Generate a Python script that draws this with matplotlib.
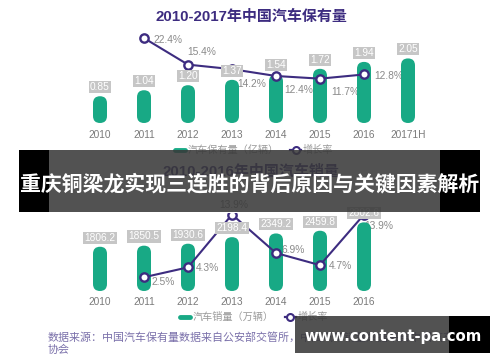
import matplotlib
matplotlib.use('Agg')
import matplotlib.pyplot as plt
from matplotlib.patches import FancyBboxPatch, Rectangle
from matplotlib.lines import Line2D

plt.rcParams['font.family'] = ['Liberation Sans', 'Noto Sans CJK SC', 'DejaVu Sans']

# 汽车保有量 (亿辆)
own_years = ['2010', '2011', '2012', '2013', '2014', '2015', '2016', '20171H']
own_vals = [0.85, 1.04, 1.20, 1.37, 1.54, 1.72, 1.94, 2.05]
own_growth = [None, 22.4, 15.4, 14.2, 12.4, 11.7, 12.8, None]

# 汽车销量 (万辆)
sale_years = ['2010', '2011', '2012', '2013', '2014', '2015', '2016']
sale_vals = [1806.2, 1850.5, 1930.6, 2198.4, 2349.2, 2459.8, 2802.6]
sale_growth = [None, 2.5, 4.3, 13.9, 6.9, 4.7, 13.9]

W, H = 500, 362
GREEN = '#18a985'
PURPLE = '#3d2c80'
BOX = '#c6c6c6'
GREY = '#8a8a8a'

fig = plt.figure(figsize=(W / 100, H / 100), dpi=100)
fig.patch.set_facecolor('white')


def fx(p):
    return p / W


def fy(p):
    return 1 - p / H


def draw_chart(base_px, height_px, cats, vals, growth, vmax, gmax, fmt,
               g_off, tickpad, leg_label, leg_y):
    rect = [fx(78), fy(base_px), 352 / W, height_px / H]
    ax = fig.add_axes(rect)
    ax.set_xlim(-0.5, 7.5)
    ax.set_ylim(0, vmax)
    axg = ax.twinx()
    axg.set_ylim(0, gmax)
    for a in (ax, axg):
        for s in a.spines.values():
            s.set_visible(False)
        a.set_yticks([])

    # rounded bars
    xs = 8 / (352)            # x units per pixel
    ys = vmax / height_px     # y units per pixel
    bw = 14 * xs
    for i, v in enumerate(vals):
        ax.add_patch(FancyBboxPatch((i - bw / 2, 0), bw, v,
                                    boxstyle='round,pad=0,rounding_size=%f' % (bw / 2),
                                    mutation_aspect=ys / xs,
                                    fc=GREEN, ec='none', zorder=2))

    # growth line
    gx = [i for i, g in enumerate(growth) if g is not None]
    gy = [g for g in growth if g is not None]
    axg.plot(gx, gy, color=PURPLE, lw=1.5, marker='o', ms=6, mfc='white',
             mec=PURPLE, mew=1.7, zorder=3)
    for (i, g), (dx, dy, ha) in zip(zip(gx, gy), g_off):
        ax.annotate('%.1f%%' % g, xy=(i, g), xycoords=axg.transData,
                    xytext=(dx * 0.72, -dy * 0.72), textcoords='offset points',
                    ha=ha, va='center', fontsize=7.4, color=GREY, zorder=1)

    # value boxes
    for i, v in enumerate(vals):
        axg.annotate(fmt % v, xy=(i, v), xycoords=ax.transData,
                     xytext=(0, 6.6), textcoords='offset points',
                     ha='center', va='center', fontsize=7.3, color='white',
                     bbox=dict(boxstyle='square,pad=0.1', fc=BOX, ec='none'),
                     zorder=5)

    ax.set_xticks(range(len(cats)), cats)
    ax.tick_params(axis='x', length=0, pad=tickpad, labelsize=7.3,
                   labelcolor='#7a7a7a')

    h1 = Line2D([], [], color=GREEN, lw=3.5, solid_capstyle='round')
    h2 = Line2D([], [], color=PURPLE, lw=1.6, marker='o', ms=5, mfc='white',
                mec=PURPLE, mew=1.5)
    leg = ax.legend([h1, h2], [leg_label, '增长率'], loc='center',
                    bbox_to_anchor=(fx(254), fy(leg_y)),
                    bbox_transform=fig.transFigure, ncol=2, frameon=False,
                    fontsize=7.3, handlelength=1.0, handletextpad=0.2,
                    columnspacing=1.2, borderaxespad=0, borderpad=0)
    for t in leg.get_texts():
        t.set_color('#9a9a9a')
    return ax, axg


# label offsets in pixels (dx, dy downwards, alignment)
own_off = [(9, 1.5, 'left'), (14, -13, 'center'), (5, 15, 'left'),
           (8, 14, 'left'), (11, 13, 'left'), (10, 2, 'left')]
sale_off = [(8, 5, 'left'), (8, 1, 'left'), (2, -10, 'center'),
            (6, -3, 'left'), (9, 1, 'left'), (0, 11, 'left')]

draw_chart(123, 94.5, own_years, own_vals, own_growth, 3.0, 24.93, '%.2f',
           own_off, 5.3, '汽车保有量（亿辆）', 150)
draw_chart(291, 78.4, sale_years, sale_vals, sale_growth, 3200, 14.25, '%.1f',
           sale_off, 4.6, '汽车销量（万辆）', 317)

fig.text(fx(251), fy(16.5), '2010-2017年中国汽车保有量', ha='center', va='center',
         fontsize=10.8, fontweight='bold', color=PURPLE)
fig.text(fx(251), fy(172), '2010-2016年中国汽车销量', ha='center', va='center',
         fontsize=10.8, fontweight='bold', color=PURPLE)

fig.text(fx(48), fy(337), '数据来源：中国汽车保有量数据来自公安部交管所，中国汽车销量数据来自中国汽车工业',
         ha='left', va='center', fontsize=7.9, color='#7a70aa')
fig.text(fx(48), fy(350), '协会', ha='left', va='center', fontsize=7.9,
         color='#7a70aa')

# title banner
fig.add_artist(Rectangle((fx(49), fy(212)), 391 / W, 62 / H, transform=fig.transFigure,
                         fc='#383838', alpha=0.87, ec='none', zorder=10))
fig.add_artist(Rectangle((fx(19), fy(212)), 30 / W, 62 / H, transform=fig.transFigure,
                         fc='black', ec='none', zorder=10))
fig.add_artist(Rectangle((fx(440), fy(212)), 40 / W, 62 / H, transform=fig.transFigure,
                         fc='black', ec='none', zorder=10))
fig.text(fx(250), fy(183.5), '重庆铜梁龙实现三连胜的背后原因与关键因素解析',
         ha='center', va='center', fontsize=15, fontweight='bold', color='white',
         family=['Noto Sans CJK SC', 'DejaVu Sans'], zorder=11)

# site stamp
fig.add_artist(Rectangle((fx(295), fy(353)), 154 / W, 37 / H, transform=fig.transFigure,
                         fc='#383838', alpha=0.87, ec='none', zorder=10))
fig.add_artist(Rectangle((fx(449), fy(353)), 41 / W, 37 / H, transform=fig.transFigure,
                         fc='black', ec='none', zorder=10))
fig.text(fx(393), fy(336.5), 'www.content-pa.com', ha='center', va='center',
         fontsize=10.7, fontweight='bold', color='white',
         family=['DejaVu Sans'], zorder=11)

fig.savefig('out.png', dpi=100)
